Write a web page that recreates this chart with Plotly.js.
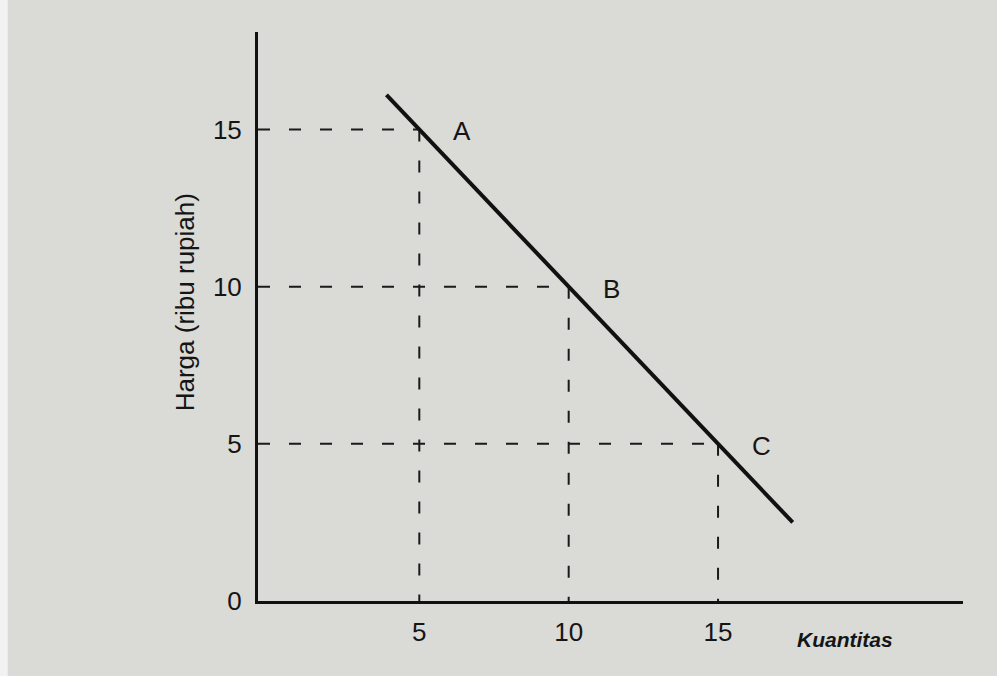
<!DOCTYPE html>
<html>
<head>
<meta charset="utf-8">
<script src="https://cdn.plot.ly/plotly-3.0.1.min.js"></script>
<style>html,body{margin:0;padding:0;background:#dadad7;}</style>
</head>
<body>
<div id="chart" style="width:997px;height:676px;"></div>
<script>
// Data
const pointLabels = ['A', 'B', 'C'];
const quantity = [5, 10, 15];          // Kuantitas
const price = [15, 10, 5];             // Harga (ribu rupiah)
const demandQ = [3.9, 17.5];           // demand line end points (quantity)
const demandP = [16.1, 2.5];           // demand line end points (price)
const xTicks = [5, 10, 15];
const yTicks = [0, 5, 10, 15];

const xMin = -0.4, xMax = 23.2, yMin = 0, yMax = 18.1;

const traces = [];
const dashStyle = {color: '#1a1a1a', width: 2, dash: '12px,19px'};

// horizontal guide lines from the price axis to each point
quantity.forEach((q, i) => {
  traces.push({x: [xMin, q], y: [price[i], price[i]], mode: 'lines',
    line: dashStyle, hoverinfo: 'skip', showlegend: false});
});
// vertical guide lines from each point to the quantity axis
quantity.forEach((q, i) => {
  traces.push({x: [q, q], y: [price[i], 0], mode: 'lines',
    line: dashStyle, hoverinfo: 'skip', showlegend: false});
});
// demand line
traces.push({x: demandQ, y: demandP, mode: 'lines',
  line: {color: '#111111', width: 4}, showlegend: false});

const fontFam = '"Liberation Sans", Arial, sans-serif';

const annotations = pointLabels.map((lab, i) => ({
  x: quantity[i], y: price[i], xref: 'x', yref: 'y', text: lab,
  showarrow: false, xanchor: 'left', yanchor: 'bottom', xshift: 32, yshift: -19,
  font: {family: fontFam, size: 26, color: '#151515'}
}));
annotations.push({
  xref: 'paper', yref: 'paper', x: 0.833, y: -0.067, text: '<b><i>Kuantitas</i></b>',
  showarrow: false, xanchor: 'center', yanchor: 'middle',
  font: {family: fontFam, size: 21, color: '#151515'}
});
annotations.push({
  xref: 'paper', yref: 'paper', x: -0.1035, y: 0.525, text: 'Harga (ribu rupiah)',
  textangle: -90, showarrow: false, xanchor: 'center', yanchor: 'middle',
  font: {family: fontFam, size: 26, color: '#151515'}
});

const layout = {
  width: 997, height: 676,
  margin: {l: 258, r: 34, t: 32, b: 75, pad: 0},
  paper_bgcolor: '#dadad7', plot_bgcolor: '#dadad7',
  font: {family: fontFam, size: 26, color: '#151515'},
  xaxis: {
    range: [xMin, xMax], tickvals: xTicks, ticktext: xTicks.map(String),
    showgrid: false, zeroline: false, showline: true, linecolor: '#111', linewidth: 2.5,
    ticks: '', ticklabelstandoff: 6, tickfont: {family: fontFam, size: 26, color: '#151515'},
    fixedrange: true
  },
  yaxis: {
    range: [yMin, yMax], tickvals: yTicks, ticktext: yTicks.map(String),
    showgrid: false, zeroline: false, showline: true, linecolor: '#111', linewidth: 3,
    ticks: '', ticklabelstandoff: 8, tickfont: {family: fontFam, size: 26, color: '#151515'},
    fixedrange: true
  },
  annotations: annotations,
  shapes: [
    {type: 'rect', xref: 'paper', yref: 'paper', x0: -0.366, x1: -0.355, y0: -0.14, y1: 1.07,
     line: {width: 0}, fillcolor: '#f2f2f2', layer: 'below'}
  ]
};

Plotly.newPlot('chart', traces, layout, {displayModeBar: false, staticPlot: true});
</script>
</body>
</html>
